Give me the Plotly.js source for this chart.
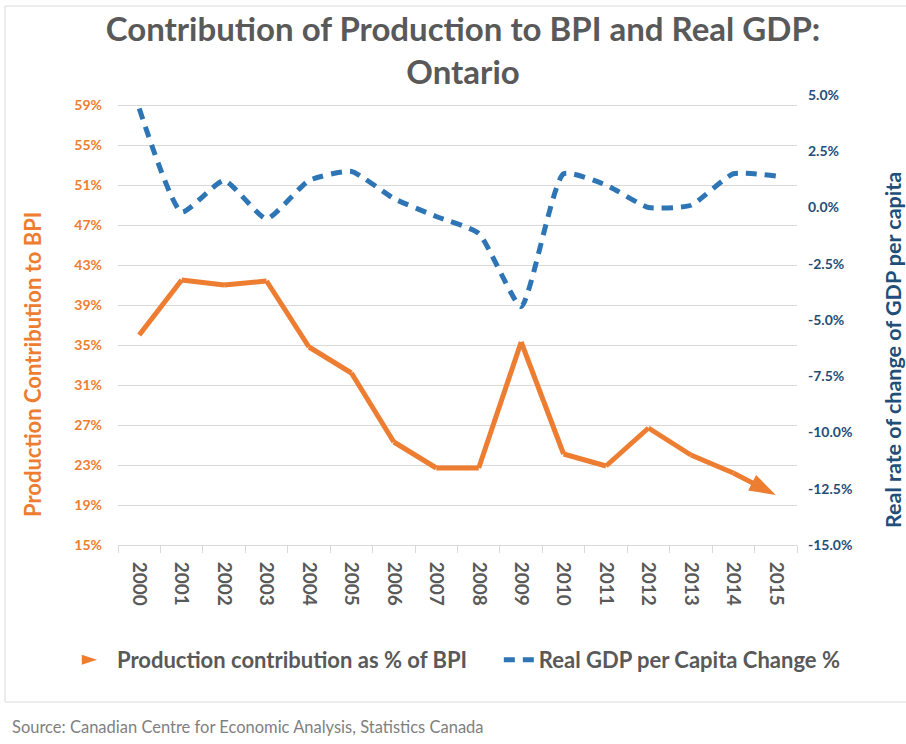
<!DOCTYPE html>
<html>
<head>
<meta charset="utf-8">
<script src="https://cdn.plot.ly/plotly-3.0.1.min.js"></script>
<style>html,body{margin:0;padding:0;background:#fff;}#chart{width:906px;height:744px;}</style>
</head>
<body>
<div id="chart"></div>
<script>
const years = ["2000","2001","2002","2003","2004","2005","2006","2007","2008","2009","2010","2011","2012","2013","2014","2015"];
const productionShare = [36.0, 41.5, 41.0, 41.4, 34.8, 32.2, 25.3, 22.7, 22.7, 35.3, 24.1, 22.9, 26.7, 24.0, 22.2, 20.0];
const gdpChange = [4.4, -0.2, 1.2, -0.5, 1.2, 1.6, 0.4, -0.4, -1.15, -4.4, 1.5, 1.0, 0.0, 0.1, 1.5, 1.4];
const leftTicks = [15, 19, 23, 27, 31, 35, 39, 43, 47, 51, 55, 59];
const rightTicks = [-15, -12.5, -10, -7.5, -5, -2.5, 0, 2.5, 5];

const FONT = "Lato, 'Open Sans', sans-serif";
const ORANGE = "#ED7D31";
const BLUE = "#2E75B6";
const DARKBLUE = "#1F4E79";
const GREY = "#595959";

const arrowSizes = productionShare.map((v, i) => i === productionShare.length - 1 ? 28 : 0);

const traces = [
  {
    x: years, y: productionShare, type: "scatter", mode: "lines+markers",
    name: "Production contribution as % of BPI", showlegend: false,
    line: {color: ORANGE, width: 5},
    marker: {symbol: "arrow", size: arrowSizes, color: ORANGE, opacity: 1, angleref: "previous", line: {width: 0}},
    xaxis: "x", yaxis: "y"
  },
  {
    x: [null], y: [null], type: "scatter", mode: "markers",
    name: "Production contribution as % of BPI\u00A0\u00A0\u00A0\u00A0\u00A0",
    marker: {symbol: "arrow", size: 18, angle: 90, color: ORANGE},
    xaxis: "x", yaxis: "y"
  },
  {
    x: years, y: gdpChange, type: "scatter", mode: "lines",
    name: "Real GDP per Capita Change %",
    line: {color: BLUE, width: 5, dash: "11px,8px", shape: "spline", smoothing: 0.5},
    xaxis: "x", yaxis: "y2"
  }
];

const px = v => (v - 118) / 679;
const py = v => (545 - v) / 450;

const layout = {
  width: 906, height: 744,
  paper_bgcolor: "#ffffff", plot_bgcolor: "#ffffff",
  margin: {l: 118, r: 109, t: 95, b: 199},
  font: {family: FONT, color: GREY},
  title: {
    text: "<b>Contribution of Production to BPI and Real GDP:<br>Ontario</b>",
    font: {family: FONT, size: 33, color: GREY},
    x: 463 / 906, xanchor: "center", xref: "container",
    y: 1 - 41 / 744, yanchor: "middle", yref: "container"
  },
  xaxis: {
    type: "category", tickangle: 90, tickson: "boundaries",
    ticks: "outside", ticklen: 7, tickcolor: "#d9d9d9",
    showline: true, linecolor: "#d9d9d9", linewidth: 1,
    showgrid: false, zeroline: false,
    range: [-0.5, 15.5],
    ticklabelstandoff: 12,
    tickfont: {family: FONT, size: 19, color: GREY, weight: "bold"}
  },
  yaxis: {
    range: [15, 60], tickvals: leftTicks, ticktext: leftTicks.map(v => v + "%"),
    showgrid: true, gridcolor: "#d9d9d9", gridwidth: 1,
    zeroline: false, showline: false, ticks: "",
    ticklabelstandoff: 15,
    tickfont: {family: FONT, size: 14, color: ORANGE, weight: "bold"}
  },
  yaxis2: {
    overlaying: "y", side: "right",
    range: [-15, 5], tickvals: rightTicks, ticktext: rightTicks.map(v => v.toFixed(1) + "%"),
    showgrid: false, zeroline: false, showline: false, ticks: "",
    ticklabelstandoff: 10,
    tickfont: {family: FONT, size: 14, color: DARKBLUE, weight: "bold"}
  },
  legend: {
    orientation: "h", xref: "paper", x: px(77), xanchor: "left",
    yref: "paper", y: py(660), yanchor: "middle",
    font: {family: FONT, size: 22, color: GREY, weight: "bold"},
    itemwidth: 30, tracegroupgap: 0
  },
  annotations: [
    {
      text: "<b>Production Contribution to BPI</b>",
      xref: "paper", yref: "paper", x: px(32), y: py(365),
      xanchor: "center", yanchor: "middle", textangle: -90, showarrow: false,
      font: {family: FONT, size: 22, color: ORANGE}
    },
    {
      text: "<b>Real rate of change of GDP per capita</b>",
      xref: "paper", yref: "paper", x: px(893), y: py(350),
      xanchor: "center", yanchor: "middle", textangle: -90, showarrow: false,
      font: {family: FONT, size: 21.5, color: DARKBLUE}
    },
    {
      text: "Source: Canadian Centre for Economic Analysis, Statistics Canada",
      xref: "paper", yref: "paper", x: px(10), y: py(727),
      xanchor: "left", yanchor: "middle", showarrow: false,
      font: {family: FONT, size: 16.5, color: "#7f7f7f"}
    }
  ],
  shapes: [
    {
      type: "rect", xref: "paper", yref: "paper", layer: "below",
      x0: px(5), x1: px(912), y0: py(702), y1: py(6),
      line: {color: "#d9d9d9", width: 1}, fillcolor: "rgba(0,0,0,0)"
    }
  ],
  showlegend: true
};

Plotly.newPlot("chart", traces, layout, {displayModeBar: false, staticPlot: true});
</script>
</body>
</html>
